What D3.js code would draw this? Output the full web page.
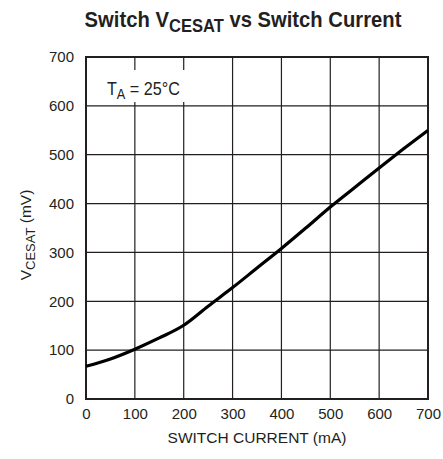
<!DOCTYPE html>
<html>
<head>
<meta charset="utf-8">
<script src="https://cdn.jsdelivr.net/npm/d3@7"></script>
<style>
  body { margin: 0; background: #fff; }
  text { fill: #231f20; }
</style>
</head>
<body>
<div id="chart"></div>
<script>
// switch current (mA) vs V_CESAT (mV)
var current = [0, 50, 100, 150, 200, 250, 300, 350, 400, 450, 500, 550, 600, 650, 700];
var vcesat  = [67, 82, 102, 125, 151, 190, 228, 268, 308, 350, 393, 433, 473, 512, 550];
var xTicks = [0, 100, 200, 300, 400, 500, 600, 700];
var yTicks = [0, 100, 200, 300, 400, 500, 600, 700];

var W = 443, H = 459;
var margin = {top: 57, right: 15, bottom: 60, left: 86};
var width = W - margin.left - margin.right,
    height = H - margin.top - margin.bottom;

var svg = d3.select("#chart").append("svg")
    .attr("width", W).attr("height", H);

var g = svg.append("g")
    .attr("transform", "translate(" + margin.left + "," + margin.top + ")");

var x = d3.scaleLinear().domain([0, 700]).range([0, width]);
var y = d3.scaleLinear().domain([0, 700]).range([height, 0]);

// grid
g.selectAll(".vgrid").data(xTicks).enter().append("line")
  .attr("x1", d => x(d)).attr("x2", d => x(d))
  .attr("y1", 0).attr("y2", height)
  .attr("stroke", "#231f20").attr("stroke-width", 1.2);
g.selectAll(".hgrid").data(yTicks).enter().append("line")
  .attr("y1", d => y(d)).attr("y2", d => y(d))
  .attr("x1", 0).attr("x2", width)
  .attr("stroke", "#231f20").attr("stroke-width", 1.2);

// frame
g.append("rect").attr("width", width).attr("height", height)
  .attr("fill", "none").attr("stroke", "#231f20").attr("stroke-width", 2);

// note with white backing
g.append("rect").attr("x", 2).attr("y", 13).attr("width", 100).attr("height", 32)
  .attr("fill", "#fff");
var note = g.append("text")
  .attr("transform", "translate(21,38) scale(0.85,1)")
  .style("font-family", "'Liberation Sans', sans-serif")
  .style("font-size", "19px");
note.append("tspan").text("T");
note.append("tspan").attr("dy", 4).style("font-size", "15px").text("A");
note.append("tspan").attr("dy", -4).text(" = 25°C");

// axes
var xAxis = g.append("g").attr("transform", "translate(0," + height + ")")
  .call(d3.axisBottom(x).tickValues(xTicks).tickSize(0).tickPadding(9).tickFormat(d3.format("d")));
var yAxis = g.append("g")
  .call(d3.axisLeft(y).tickValues(yTicks).tickSize(0).tickPadding(12).tickFormat(d3.format("d")));
[xAxis, yAxis].forEach(function (a) {
  a.select(".domain").remove();
  a.selectAll("text").style("font-family", "'Liberation Sans', sans-serif")
    .style("font-size", "15px").attr("fill", "#231f20");
});

// curve
g.append("path")
  .datum(current.map((c, i) => [c, vcesat[i]]))
  .attr("fill", "none").attr("stroke", "#000").attr("stroke-width", 3.2)
  .attr("d", d3.line().x(d => x(d[0])).y(d => y(d[1])).curve(d3.curveMonotoneX));

// axis titles
svg.append("text").attr("x", margin.left + width / 2).attr("y", 443)
  .attr("text-anchor", "middle")
  .style("font-family", "'Liberation Sans', sans-serif").style("font-size", "15.5px")
  .text("SWITCH CURRENT (mA)");

var yt = svg.append("text")
  .attr("transform", "translate(31,235) rotate(-90)")
  .attr("text-anchor", "middle")
  .style("font-family", "'Liberation Sans', sans-serif").style("font-size", "15.5px");
yt.append("tspan").text("V");
yt.append("tspan").attr("dy", 4).style("font-size", "13px").text("CESAT");
yt.append("tspan").attr("dy", -4).text(" (mV)");

// title
var title = svg.append("text")
  .attr("transform", "translate(243,27) scale(0.92,1)")
  .attr("text-anchor", "middle")
  .style("font-family", "'Liberation Sans', sans-serif")
  .style("font-size", "22px").style("font-weight", "bold");
title.append("tspan").text("Switch V");
title.append("tspan").attr("dy", 5).style("font-size", "18px").text("CESAT");
title.append("tspan").attr("dy", -5).text(" vs Switch Current");
</script>
</body>
</html>
